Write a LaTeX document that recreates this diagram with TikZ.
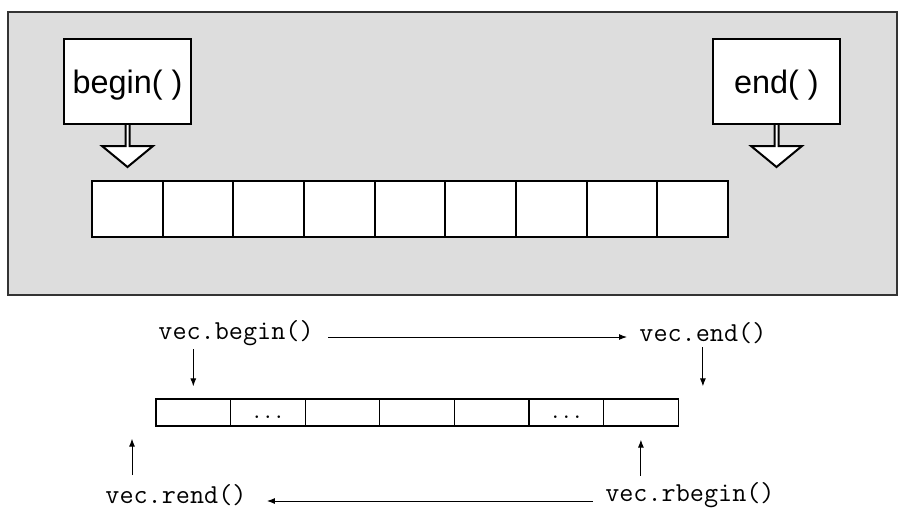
\documentclass[tikz,border=0pt]{standalone}
\usepackage{fontspec}
\newfontfamily\labelfont{Liberation Sans}
\usetikzlibrary{arrows.meta}
\definecolor{panelgray}{RGB}{221,221,221}

\begin{document}
\begin{tikzpicture}[x=0.5pt, y=-0.5pt]

    \tikzset{cellstyle/.style={draw,fill=white,line width=1pt,minimum width=35.33pt,minimum height=28pt,inner sep=0pt}}
    \tikzset{smallcell/.style={draw,fill=white,line width=0.6pt,minimum width=37.3pt,minimum height=13.5pt,inner sep=0pt,
        font=\ttfamily\fontsize{10.5}{12}\selectfont,text height=5.5pt,text depth=0pt}}
    \tikzset{labelbox/.style={draw,fill=white,line width=1pt,minimum width=63.5pt,minimum height=42.5pt,
        font=\labelfont\fontsize{16.2}{19}\selectfont,text depth=0pt}}
    \tikzset{codelabel/.style={font=\ttfamily\fontsize{13.7}{16}\selectfont,inner sep=0pt}}
    \tikzset{pointer/.style={draw,fill=white,line width=1pt}}
    \tikzset{thinarrow/.style={-{Latex[length=4pt,width=3pt]},line width=0.5pt}}

    \useasboundingbox (0,0) rectangle (910,530);
    \draw[fill=panelgray,draw=black!80,line width=0.7pt] (8,12) rectangle (897,295);

    \node[labelbox] (bb) at (127.5, 81.5) {begin( )};
    \node[labelbox] (eb) at (776.5, 81.5) {end( )};

    \node[cellstyle] (c1) at (127.3, 209) {};
    \node[cellstyle] (c2) at (198.0, 209) {};
    \node[cellstyle] (c3) at (268.7, 209) {};
    \node[cellstyle] (c4) at (339.3, 209) {};
    \node[cellstyle] (c5) at (410.0, 209) {};
    \node[cellstyle] (c6) at (480.7, 209) {};
    \node[cellstyle] (c7) at (551.3, 209) {};
    \node[cellstyle] (c8) at (622.0, 209) {};
    \node[cellstyle] (c9) at (692.7, 209) {};

    % Flechas huecas.
    \draw[pointer] (bb.south) ++(-2,0) -- ++(0,21) -- ++(-23.5,0) -- ++(25.5,21) -- ++(25.5,-21) -- ++(-23.5,0) -- ++(0,-21);
    \draw[pointer] (eb.south) ++(-2,0) -- ++(0,21) -- ++(-23.5,0) -- ++(25.5,21) -- ++(25.5,-21) -- ++(-23.5,0) -- ++(0,-21);

    \node[smallcell] (s1) at (193.3, 412.5) {};
    \node[smallcell] (s2) at (267.9, 412.5) {...};
    \node[smallcell] (s3) at (342.5, 412.5) {};
    \node[smallcell] (s4) at (417.1, 412.5) {};
    \node[smallcell] (s5) at (491.7, 412.5) {};
    \node[smallcell] (s6) at (566.3, 412.5) {...};
    \node[smallcell] (s7) at (640.9, 412.5) {};

    \node[codelabel,anchor=west] (vb) at (158, 333) {vec.begin()};
    \node[codelabel,anchor=west] (ve) at (639, 333) {vec.end()};
    \node[codelabel,anchor=west] (vn) at (105, 495) {vec.rend()};
    \node[codelabel,anchor=east] (vr) at (775, 495) {vec.rbegin()};

    % Nodo artificial.
    \coordinate (rt) at (132, 475);

    \draw[thinarrow,shorten <=7pt,shorten >=6pt] ([yshift=-2pt]vb.east) -- ([yshift=-2pt]ve.west);
    \draw[thinarrow,shorten <=6pt,shorten >=10pt] ([yshift=-3pt]vr.west) -- ([yshift=-3pt]vn.east);

    \draw[thinarrow,shorten <=1.5pt,shorten >=6pt] (s1.north |- vb.south) -- (s1.north);
    \draw[thinarrow,shorten <=1.5pt,shorten >=6pt] (ve.south) -- (ve.south |- s7.north);
    \draw[thinarrow,shorten >=6pt] (rt) -- (rt |- s1.south);
    \draw[thinarrow,shorten <=3pt,shorten >=6.5pt] (s7.south |- vr.north) -- (s7.south);

\end{tikzpicture}
\end{document}
